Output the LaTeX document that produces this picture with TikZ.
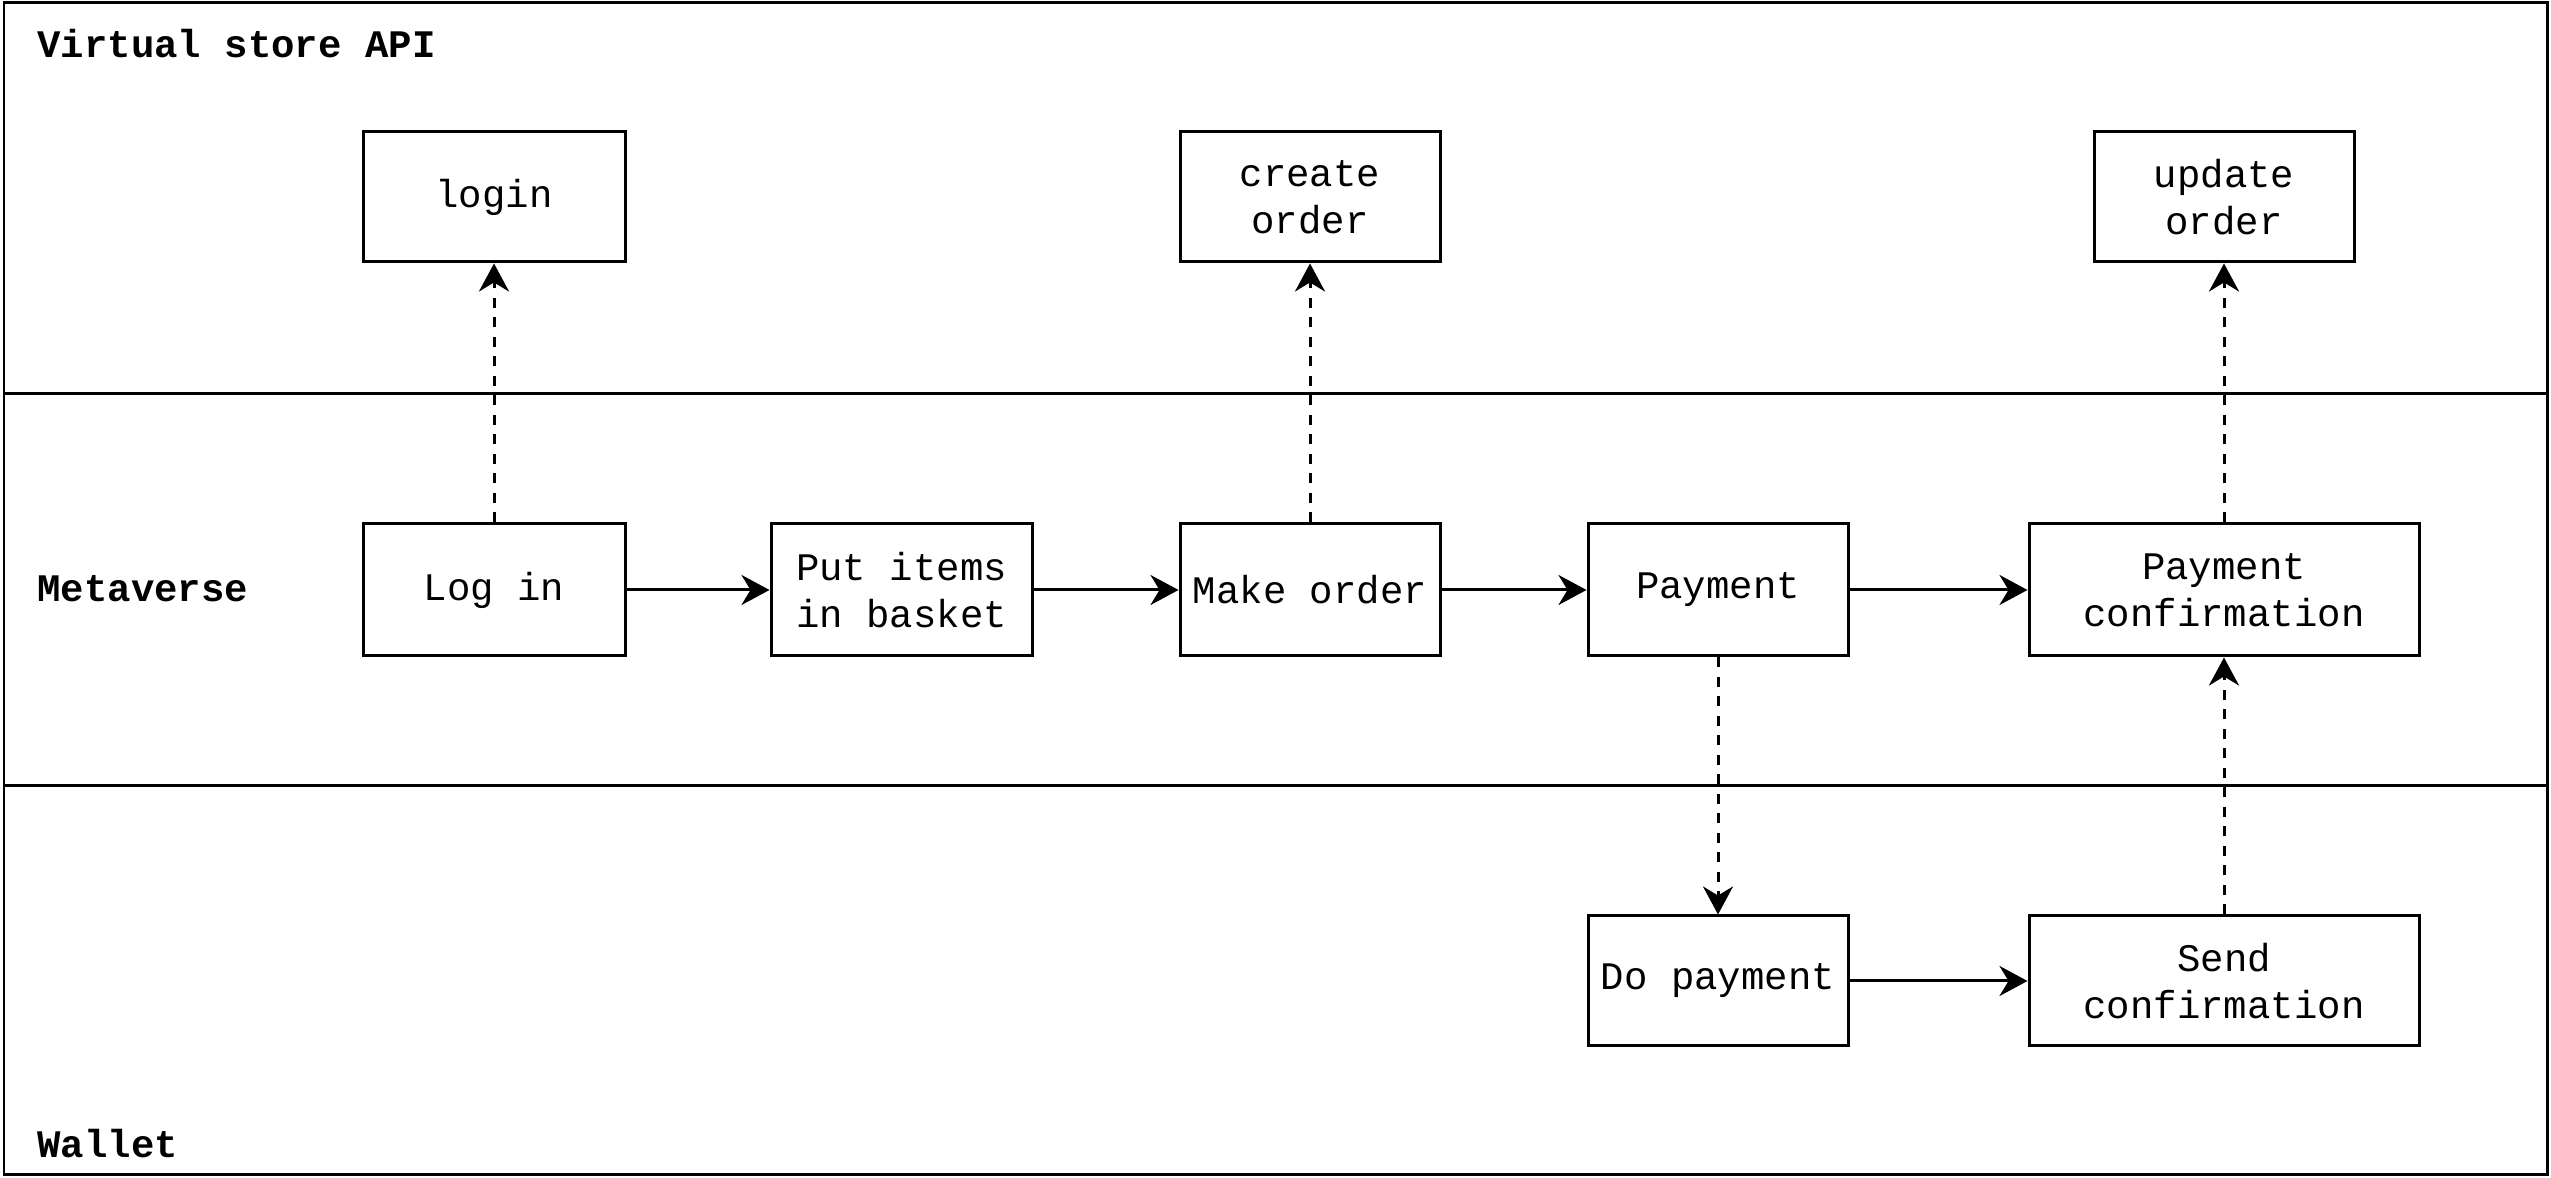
\documentclass[tikz,border=0pt]{standalone}
\usepackage{fontspec}
\setmainfont{Liberation Mono}
\usetikzlibrary{arrows.meta}
\begin{document}
\begin{tikzpicture}[x=0.1mm,y=-0.1mm,
  line width=0.3mm,
  stepbox/.style={draw, rectangle, inner sep=0pt, font=\fontsize{11.1}{13.4}\selectfont, align=center},
  lane/.style={font=\fontsize{11.1}{14}\selectfont\bfseries, anchor=west, inner sep=0pt},
  flow/.style={-{Stealth[length=2.8mm,width=3mm,inset=0.9mm]}},
  call/.style={flow, dash pattern=on 1mm off 0.95mm}]
  \useasboundingbox (0,0) rectangle (2551,1178);

  % swimlane frame and separators
  \draw (4,3) rectangle (2547,1175);
  \draw (4,394) -- (2547,394);
  \draw (4,786) -- (2547,786);

  \node[lane] (lapi) at (36,44) {Virtual store API};
  \node[lane] (lmeta) at (36,589) {Metaverse};
  \node[lane] (lwallet) at (36,1144) {Wallet};

  % Virtual store API
  \node[stepbox, minimum width=26.2mm, minimum height=13mm] (login) at (494,197) {login};
  \node[stepbox, minimum width=26.0mm, minimum height=13mm] (create) at (1310,197) {create\\order};
  \node[stepbox, minimum width=26.0mm, minimum height=13mm] (update) at (2224,197) {update\\order};

  % Metaverse
  \node[stepbox, minimum width=26.2mm, minimum height=13.2mm] (logi) at (494,590) {Log in};
  \node[stepbox, minimum width=26.1mm, minimum height=13.2mm] (put) at (901.5,590) {Put items\\in basket};
  \node[stepbox, minimum width=26.0mm, minimum height=13.2mm] (make) at (1310,590) {Make order};
  \node[stepbox, minimum width=26.0mm, minimum height=13.2mm] (pay) at (1718,590) {Payment};
  \node[stepbox, minimum width=39.0mm, minimum height=13.2mm] (payconf) at (2224,590) {Payment\\confirmation};

  % Wallet
  \node[stepbox, minimum width=26.0mm, minimum height=13mm] (dopay) at (1718,981) {Do payment};
  \node[stepbox, minimum width=39.0mm, minimum height=13mm] (send) at (2224,981) {Send\\confirmation};

  % main flow
  \draw[flow] (logi) -- (put);
  \draw[flow] (put) -- (make);
  \draw[flow] (make) -- (pay);
  \draw[flow] (pay) -- (payconf);
  \draw[flow] (dopay) -- (send);

  % calls across lanes
  \draw[call] (logi) -- (login);
  \draw[call] (make) -- (create);
  \draw[call] (payconf) -- (update);
  \draw[call] (pay) -- (dopay);
  \draw[call] (send) -- (payconf);
\end{tikzpicture}
\end{document}
